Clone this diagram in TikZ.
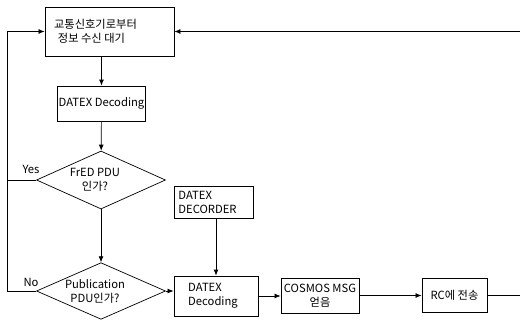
\documentclass[tikz,border=0pt]{standalone}
\usepackage{fontspec}
\setmainfont{Noto Sans CJK KR}
\usetikzlibrary{shapes.geometric,arrows.meta}

\begin{document}
\begin{tikzpicture}[x=0.025cm, y=-0.025cm, font=\fontsize{8}{10}\selectfont,
  box/.style={draw, line width=0.5pt, inner sep=1pt, align=center},
  test/.style={draw, line width=0.5pt, diamond, aspect=2.2, inner sep=0pt,
    minimum width=3.225cm, minimum height=1.45cm, align=center},
  flow/.style={line width=0.5pt, -{Latex[length=1.5mm, width=1.2mm]}},
  wire/.style={line width=0.5pt}]
\useasboundingbox (0,0) rectangle (520,325);
\node[box, minimum width=3.225cm, minimum height=1.225cm] (wait) at (109.5,31.5)
  {교통신호기로부터\hspace*{0.7cm}\\정보 수신 대기\hspace*{0.9cm}};
\node[box, minimum width=2.175cm, minimum height=0.875cm] (dec1) at (101.5,103.5)
  {DATEX Decoding};
\node[test] (fred) at (101,180) {FrED PDU\hspace*{0.3cm}\\인가?\hspace*{0.3cm}};
\node[test, minimum height=1.4cm] (pub) at (101,291)
  {Publication\hspace*{0.3cm}\\PDU인가?\hspace*{0.3cm}};
\node[box, align=left, minimum width=1.975cm, minimum height=0.8cm] (decdr) at (213.5,202)
  {DATEX\\DECORDER\hspace*{0.3cm}};
\node[box, align=left, minimum width=2.1cm, minimum height=1.0cm] (dec2) at (216,296)
  {DATEX\\Decoding\hspace*{0.15cm}};
\node[box, minimum width=1.95cm, minimum height=0.875cm] (cosmos) at (320,295.5)
  {COSMOS MSG\\얻음};
\node[box, minimum width=1.625cm, minimum height=0.85cm] (rc) at (454.5,295)
  {RC에 전송};
\coordinate (lft) at (7,180);
\node at (31,169) {Yes};
\node at (31,282) {No};
\draw[flow] (wait.south -| dec1) -- (dec1);
\draw[flow] (dec1) -- (fred);
\draw[flow] (fred) -- (pub);
\draw[flow] (fred.west) -- (lft) |- (wait.west);
\draw[wire] (pub.west) -- (pub.west -| lft) -- (lft);
\draw[flow] (pub.east) -- (pub.east -| dec2.west);
\draw[flow] (decdr.south -| dec2) -- (dec2);
\draw[flow] (dec2.east) -- (dec2.east -| cosmos.west);
\draw[flow] (cosmos.east) -- (cosmos.east -| rc.west);
\draw[flow] (rc.east) -- ++(50,0) |- (wait.east);
\end{tikzpicture}
\end{document}
